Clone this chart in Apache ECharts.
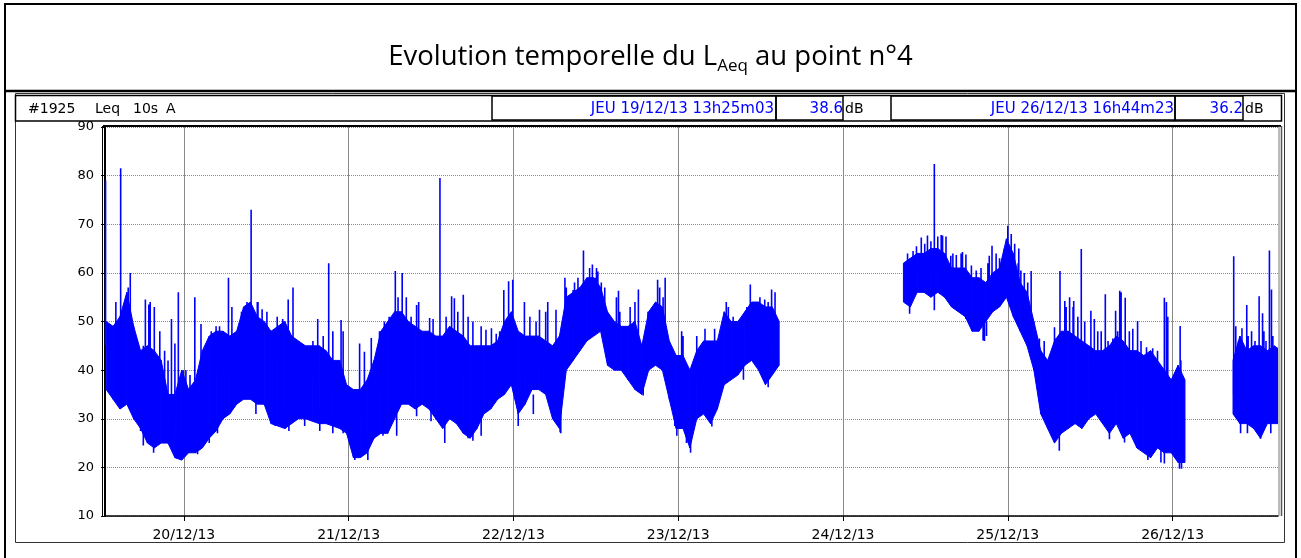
<!DOCTYPE html>
<html>
<head>
<meta charset="utf-8">
<script src="https://cdn.jsdelivr.net/npm/echarts@6/dist/echarts.min.js"></script>
<style>
  html, body { margin: 0; padding: 0; background: #fff; }
  #chart { width: 1301px; height: 558px; }
</style>
</head>
<body>
<div id="chart"></div>
<script>
// Time is counted in hours from 19/12/13 00:00.
// Each segment holds one (min, max) pair of the 10 s LAeq per hour, in dB(A).
const dayTicks = [24, 48, 72, 96, 120, 144, 168];
const dayLabels = ['20/12/13', '21/12/13', '22/12/13', '23/12/13', '24/12/13', '25/12/13', '26/12/13'];

const seg1Start = 12.7;
const seg1Low = [
  36, 34, 32, 33, 30, 28, 25, 24, 25, 25, 22, 21.5, 23, 23, 24, 26, 27.5, 30, 31, 33,
  34, 34, 33, 33, 29, 28.5, 28, 29, 30, 30,
  29.5, 29, 29, 28.5, 28, 27, 22, 22, 23, 26, 27, 27, 30, 33, 33, 32, 33, 32, 30, 28,
  30, 29, 27, 26, 28, 31, 32, 34, 35, 37, 31, 33, 36, 36, 35, 30, 28, 40, 42, 44, 46, 47,
  48, 41, 40, 40, 38, 36, 35, 40, 41, 40, 34, 28, 28, 24, 30, 31, 29, 32, 37, 38, 39, 41,
  42, 40, 37, 39, 41
];
const seg1High = [
  50, 49, 51, 56, 49, 44, 45, 44, 42, 35, 35, 40, 36, 38, 44, 47, 48, 48, 47, 48,
  53, 54, 51, 50, 48, 49, 50, 47, 46, 45,
  45, 45, 44, 42, 42, 37, 36, 36, 38, 42, 48, 50, 52, 52, 50, 49, 48, 48, 47, 47,
  49, 48, 47, 45, 45, 45, 45, 46, 50, 52, 48, 47, 47, 47, 46, 45, 47, 55, 56, 57, 59, 59,
  57, 52, 50, 49, 49, 50, 45, 52, 54, 53, 46, 43, 43, 40, 44, 46, 46, 46, 52, 50, 50, 52,
  54, 54, 53, 53, 50
];

const seg2Start = 128.8;
const seg2Low = [
  54, 53, 56, 56, 55, 56, 55, 53, 52, 51, 48, 48, 50, 52, 53, 55, 51, 48, 45, 40,
  31, 28, 25, 27, 28, 29, 28, 30, 31, 29, 27, 29, 26, 27, 24, 23, 22, 24, 23, 23, 21, 21
];
const seg2High = [
  62, 63, 64, 64, 65, 65, 64, 61, 61, 61, 59, 59, 58, 60, 61, 67, 64, 58, 56, 50,
  44, 42, 46, 48, 48, 47, 46, 45, 44, 44, 45, 47, 46, 44, 44, 43, 44, 42, 40, 38, 41, 38
];

const seg3Start = 176.8;
const seg3Low = [31, 29, 29, 28, 26, 29, 29, 29];
const seg3High = [42, 47, 44, 45, 45, 44, 45, 44];

// Short events rising out of the band: [hour, level inside the band, peak level]
const peaks = [
  [12.6, 45, 79], [14.1, 45, 54], [14.8, 45, 81.5], [15.9, 48, 57], [16.2, 48, 60],
  [18.1, 40, 45], [18.4, 40, 54.5], [18.9, 40, 53.5], [19.1, 40, 54], [19.7, 40, 53],
  [20.5, 38, 48], [21.2, 36, 44], [21.7, 33, 42], [22.2, 30, 50.5], [22.7, 30, 45.5],
  [23.2, 30, 56], [23.9, 32, 40], [24.3, 32, 40], [24.9, 32, 39], [25.6, 30, 55],
  [26.1, 30, 35], [26.5, 32, 49.5], [27.3, 38, 45], [28.0, 40, 48], [28.7, 40, 49],
  [29.2, 40, 49], [30.5, 40, 59], [31.0, 40, 53], [32.4, 42, 52], [32.5, 42, 52],
  [33.2, 45, 54], [33.8, 45, 73], [34.7, 45, 54], [34.8, 45, 54], [35.4, 44, 52.5],
  [36.1, 42, 52], [37.6, 42, 51], [38.4, 42, 50.5], [39.2, 40, 54.5], [39.9, 40, 57],
  [41.6, 38, 45], [42.8, 38, 46], [43.5, 38, 50.5], [44.3, 38, 47], [45.1, 38, 62],
  [45.7, 36, 48], [46.9, 35, 50.3], [47.2, 35, 48], [49.6, 30, 45.5], [50.3, 30, 43.8],
  [51.3, 30, 46.6], [52.5, 38, 48], [52.7, 35, 48], [53.2, 40, 50], [53.9, 42, 51],
  [54.8, 40, 60.4], [55.2, 45, 55], [55.8, 42, 60], [56.4, 45, 55], [57.1, 44, 51],
  [57.9, 42, 53.4], [58.2, 42, 54], [59.8, 42, 50.7], [60.3, 42, 50.5], [61.3, 40, 79.5],
  [62.2, 42, 51], [63.0, 40, 55.2], [63.4, 40, 54.8], [63.9, 42, 52], [64.7, 40, 55.5],
  [65.4, 42, 51], [66.1, 40, 50], [67.3, 40, 49], [68.0, 38, 48.3], [68.8, 38, 48.6],
  [69.5, 40, 47.5], [70.0, 40, 48], [70.6, 40, 56.5], [71.3, 42, 58.3], [71.9, 42, 58.6],
  [73.6, 40, 54], [74.4, 42, 51], [75.3, 42, 50], [75.8, 40, 52.4], [76.7, 42, 52],
  [77.0, 40, 54], [78.2, 38, 52.4], [79.5, 45, 59], [79.7, 48, 57], [80.7, 50, 56.5],
  [80.9, 50, 58], [81.4, 50, 59], [81.7, 50, 57], [82.2, 50, 64.6], [83.1, 52, 61],
  [83.5, 52, 61.7], [83.9, 52, 59], [84.1, 52, 61], [84.3, 52, 60.3], [84.8, 52, 58],
  [85.3, 50, 57], [87.0, 45, 55], [87.3, 45, 56.3], [87.5, 45, 52], [89.0, 45, 53],
  [89.7, 45, 54], [90.2, 42, 56.6], [91.6, 44, 52], [92.4, 46, 53], [93.0, 46, 58.6],
  [93.3, 48, 57], [93.8, 48, 55], [94.1, 46, 59], [96.5, 38, 48], [96.7, 38, 47],
  [98.7, 38, 47], [99.9, 40, 48.5], [101.3, 40, 48.5], [102.3, 42, 48], [103.0, 44, 54],
  [103.3, 46, 53], [104.0, 46, 51], [105.0, 46, 50.5], [106.0, 48, 53], [106.5, 46, 57.6],
  [107.2, 48, 54], [107.9, 48, 55], [108.6, 48, 54.5], [109.1, 48, 54], [109.6, 45, 56.6],
  [110.1, 48, 56],
  [129.4, 58, 64], [130.2, 58, 64.5], [130.7, 60, 65.5], [131.4, 60, 67.3], [131.9, 60, 66],
  [132.3, 60, 67.7], [132.8, 60, 66.5], [133.3, 60, 82.4], [133.8, 60, 67.5], [134.3, 60, 67.8],
  [134.5, 60, 67.7], [135.0, 60, 67.5], [135.7, 57, 63.5], [136.0, 57, 64], [136.5, 57, 63.7],
  [137.2, 56, 64], [137.4, 56, 64.3], [137.9, 56, 63.8], [138.7, 56, 61.5], [139.4, 55, 60.5],
  [140.1, 55, 61], [141.1, 55, 62], [141.3, 55, 63.5], [141.7, 55, 65.6], [142.3, 56, 64],
  [142.8, 56, 63], [143.5, 57, 65], [144.0, 60, 69.7], [144.5, 60, 68], [145.0, 58, 66],
  [145.5, 56, 62], [145.6, 56, 65], [145.9, 54, 60.5], [146.4, 54, 60], [146.9, 52, 58],
  [147.4, 52, 60.4], [148.6, 40, 46.5], [149.3, 38, 46], [150.8, 35, 48.8], [151.0, 38, 46.5],
  [151.6, 35, 60.4], [152.3, 35, 54.2], [152.5, 40, 53], [153.0, 40, 55], [153.5, 40, 53],
  [153.6, 35, 54.2], [154.2, 40, 51], [154.7, 35, 64.9], [155.2, 40, 50], [156.1, 35, 52.2],
  [156.6, 40, 50.5], [157.1, 40, 48], [157.6, 40, 48], [158.2, 35, 55.6], [158.6, 38, 46],
  [159.3, 38, 46.5], [159.7, 35, 52.2], [160.0, 40, 48], [160.3, 35, 56.3], [160.5, 40, 56],
  [161.1, 35, 54.9], [161.7, 38, 48], [162.2, 38, 48.5], [162.9, 33, 50.1], [163.4, 38, 46],
  [164.2, 38, 44.7], [165.1, 38, 44.5], [165.8, 36, 44], [166.8, 33, 54.9], [167.1, 33, 54],
  [167.3, 35, 51], [168.5, 33, 40], [169.1, 30, 49.1], [169.2, 33, 42],
  [176.9, 35, 63.4], [177.2, 38, 49], [177.6, 38, 46], [178.1, 38, 48.6], [178.8, 35, 53.4],
  [179.0, 38, 47], [179.5, 38, 48], [180.0, 38, 46], [180.6, 35, 55.2], [181.1, 35, 51.7],
  [181.3, 38, 48], [181.6, 38, 46], [182.1, 35, 64.6], [182.4, 35, 56.6], [182.6, 38, 47]
];

// Short quiet dips below the band: [hour, level inside the band, lowest level]
const dips = [
  [17.7, 32, 27.5], [18.1, 30, 24.5], [19.6, 28, 23], [20.5, 28, 25], [21.9, 28, 25],
  [23.6, 26, 21.5], [26.0, 26, 22.7], [27.7, 28, 25], [28.9, 30, 27], [34.5, 36, 31],
  [37.3, 32, 28.5], [38.8, 32, 28], [39.3, 32, 27.5], [41.6, 32, 28.5], [43.8, 32, 27.5],
  [45.7, 31, 27], [47.2, 31, 27], [48.9, 26, 21.5], [50.8, 26, 21.5], [53.0, 30, 26.5],
  [55.0, 31, 26.5], [57.9, 34, 30.5], [60.0, 34, 29.5], [62.0, 31, 25], [65.4, 30, 26],
  [66.1, 30, 25.5], [67.3, 30, 26.5], [72.7, 33, 28.5], [74.9, 35, 31], [78.8, 32, 27.2],
  [78.9, 35, 27], [79.7, 46, 42], [90.9, 38, 34.8], [95.5, 32, 28.5], [95.8, 30, 26.5],
  [97.2, 28, 25], [97.8, 30, 23], [100.9, 32, 28.4], [105.5, 41, 38], [109.1, 40, 36.5],
  [129.7, 55, 51.6], [133.3, 57, 52.3], [137.9, 54, 50.5], [140.4, 50, 46.1], [140.6, 50, 46],
  [140.9, 50, 47], [151.5, 30, 23.4], [158.8, 30, 25.8], [161.0, 30, 25.1], [164.4, 26, 21.5],
  [166.3, 26, 21], [166.8, 26, 20.8], [169.0, 25, 19.7], [169.3, 25, 19.7],
  [177.9, 31, 27], [178.9, 31, 27], [180.8, 30, 25.9], [182.3, 31, 27]
];

const segments = [
  { start: seg1Start, low: seg1Low, high: seg1High },
  { start: seg2Start, low: seg2Low, high: seg2High },
  { start: seg3Start, low: seg3Low, high: seg3High }
];

const BLUE = '#0000ff';
const FONT = '"DejaVu Sans", Verdana, sans-serif';
const TITLE_FONT = '"Open Sans", "Noto Sans", sans-serif';

// One quad per hour: [h0, low0, high0, h1, low1, high1]
const bandData = [];
segments.forEach(s => {
  for (let i = 0; i < s.low.length - 1; i++) {
    bandData.push([s.start + i, s.low[i], s.high[i], s.start + i + 1, s.low[i + 1], s.high[i + 1]]);
  }
});

// Vertical strokes, separated by empty points so the line breaks between them
const strokePts = [];
peaks.concat(dips).forEach(([h, from, to]) => {
  strokePts.push([h, from], [h, to], [h, '-']);
});

const series = [
  {
    type: 'custom',
    data: bandData,
    encode: { x: [0, 3], y: [1, 2, 4, 5] },
    clip: true,
    silent: true,
    renderItem: (params, api) => {
      const p0 = api.coord([api.value(0), api.value(2)]);
      const p1 = api.coord([api.value(3), api.value(5)]);
      const p2 = api.coord([api.value(3), api.value(4)]);
      const p3 = api.coord([api.value(0), api.value(1)]);
      return {
        type: 'polygon',
        shape: { points: [p0, p1, p2, p3] },
        style: { fill: BLUE, stroke: BLUE, lineWidth: 1 }
      };
    }
  },
  {
    type: 'line', data: strokePts, symbol: 'none', silent: true, connectNulls: false,
    lineStyle: { color: BLUE, width: 1.6 }
  }
];

const chart = echarts.init(document.getElementById('chart'), null, { renderer: 'canvas' });

const headerText = (x, y, text, align, color, size) => ({
  type: 'text', x, y, z: 20,
  style: { text, fill: color, font: (size || 14) + 'px ' + FONT, textAlign: align, textVerticalAlign: 'middle' }
});
const box = (x, y, w, h, lw, color) => ({
  type: 'rect', z: 20, shape: { x, y, width: w, height: h },
  style: { fill: 'none', stroke: color || '#000', lineWidth: lw }
});
const line = (x1, y1, x2, y2, lw, color) => ({
  type: 'line', z: 20, shape: { x1, y1, x2, y2 },
  style: { stroke: color || '#000', lineWidth: lw }
});

chart.setOption({
  animation: false,
  backgroundColor: '#fff',
  title: {
    text: '{m|Evolution temporelle du L}{s|Aeq}{m| au point n°4}',
    left: 'center',
    top: 34,
    textStyle: {
      fontWeight: 'normal',
      rich: {
        m: { fontFamily: TITLE_FONT, fontSize: 27.5, fontWeight: 'normal', color: '#000', lineHeight: 36 },
        s: { fontFamily: TITLE_FONT, fontSize: 17, fontWeight: 'normal', color: '#000', lineHeight: 18, verticalAlign: 'bottom' }
      }
    }
  },
  grid: { left: 105, top: 127, width: 1173, height: 389, containLabel: false },
  xAxis: {
    type: 'value',
    min: 12.52,
    max: 183.35,
    axisLine: { show: true, onZero: false, lineStyle: { color: '#000', width: 1.5 } },
    axisTick: { show: true, customValues: dayTicks, length: 5, inside: false, lineStyle: { color: '#000', width: 1 } },
    axisLabel: {
      customValues: dayTicks,
      formatter: v => dayLabels[dayTicks.indexOf(Math.round(v))] || '',
      color: '#000', fontSize: 14, fontFamily: FONT, margin: 12
    },
    splitLine: { show: true, lineStyle: { color: '#8a8a8a', width: 1, type: 'solid' } }
  },
  yAxis: {
    type: 'value',
    min: 10,
    max: 90,
    interval: 10,
    axisLine: { show: true, lineStyle: { color: '#000', width: 2 } },
    axisTick: { show: true, length: 4, lineStyle: { color: '#000' } },
    axisLabel: { color: '#000', fontSize: 13, fontFamily: FONT, margin: 11 },
    splitLine: { show: true, lineStyle: { color: '#8a8a8a', width: 1, type: [1, 1] } }
  },
  series,
  graphic: [
    // page frame and title separator
    box(5, 4, 1291, 560, 2),
    line(5, 91, 1296, 91, 2.5),
    // chart panel
    box(15.5, 93.5, 1269, 449, 1, '#333'),
    // header strip
    box(15.5, 95.5, 1266, 25.5, 1.5),
    box(492, 96, 284, 24, 1.5),
    box(776, 96, 67, 24, 1.5),
    box(891, 96, 284, 24, 1.5),
    box(1175, 96, 68, 24, 1.5),
    headerText(28, 109, '#1925', 'left', '#000'),
    headerText(95, 109, 'Leq', 'left', '#000'),
    headerText(133, 109, '10s', 'left', '#000'),
    headerText(166, 109, 'A', 'left', '#000'),
    headerText(774, 109, 'JEU 19/12/13 13h25m03', 'right', BLUE, 15),
    headerText(843, 109, '38.6', 'right', BLUE, 15),
    headerText(845, 109, 'dB', 'left', '#000'),
    headerText(1174, 109, 'JEU 26/12/13 16h44m23', 'right', BLUE, 15),
    headerText(1243, 109, '36.2', 'right', BLUE, 15),
    headerText(1245, 109, 'dB', 'left', '#000'),
    // plot frame
    line(103, 126, 1281, 126, 2),
    line(102.5, 126, 102.5, 516, 1),
    line(1279, 126, 1279, 516, 1, '#777'),
    line(1281.5, 126, 1281.5, 516, 1.5, '#555')
  ]
});
</script>
</body>
</html>
